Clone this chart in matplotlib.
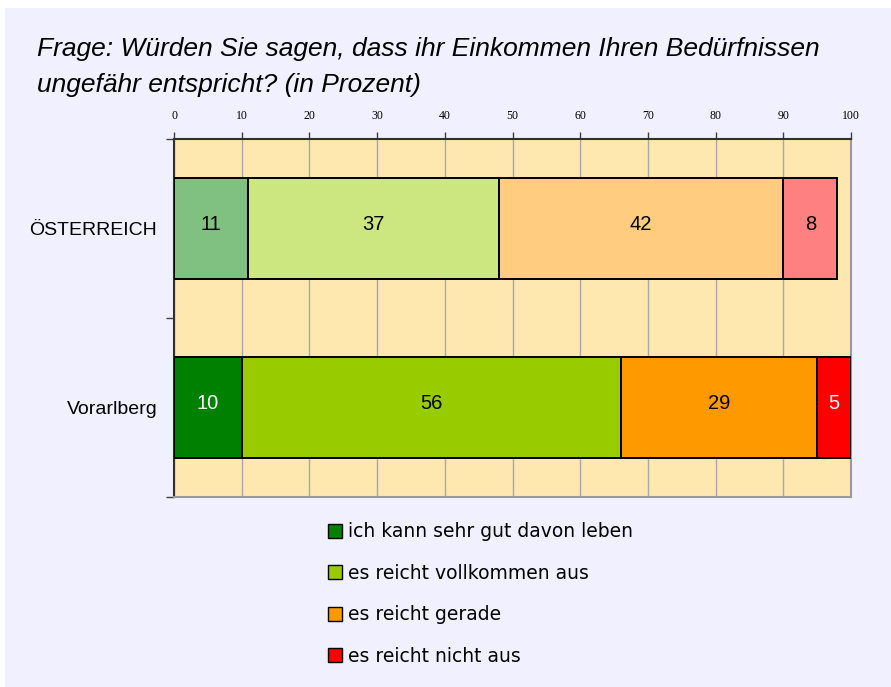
import matplotlib
matplotlib.use("Agg")
import matplotlib.pyplot as plt
from matplotlib.patches import Rectangle, Patch

categories = ["Vorarlberg", "ÖSTERREICH"]
series_labels = ["ich kann sehr gut davon leben", "es reicht vollkommen aus",
                 "es reicht gerade", "es reicht nicht aus"]
oesterreich = [11, 37, 42, 8]
vorarlberg = [10, 56, 29, 5]
xticks = list(range(0, 101, 10))
title_lines = ["Frage: Würden Sie sagen, dass ihr Einkommen Ihren Bedürfnissen",
               "ungefähr entspricht? (in Prozent)"]

colors_vbg = ["#008000", "#99CC00", "#FF9900", "#FF0000"]
colors_oe = ["#80C080", "#CCE680", "#FFCC80", "#FF8080"]
text_vbg = ["white", "black", "black", "white"]
text_oe = ["black", "black", "black", "black"]

W, H = 891, 687
fig = plt.figure(figsize=(W / 100, H / 100), dpi=100)
fig.patch.set_facecolor("white")
fig.add_artist(Rectangle((5 / W, 0), 1, 1 - 8 / H, transform=fig.transFigure,
                         facecolor="#F0F0FF", edgecolor="none", zorder=-10))

ax = fig.add_axes([174 / W, 190 / H, 677 / W, 358 / H])
ax.set_facecolor("#FFE8B0")
ax.set_xlim(0, 100)
ax.set_ylim(-0.5, 1.5)

rows = [(0, vorarlberg, colors_vbg, text_vbg), (1, oesterreich, colors_oe, text_oe)]
for y, vals, cols, tcols in rows:
    left = 0
    for v, c, tc in zip(vals, cols, tcols):
        ax.barh(y, v, left=left, height=0.56, color=c, edgecolor="black",
                linewidth=1.4, zorder=3)
        ax.text(left + v / 2, y + 0.02, str(v), ha="center", va="center",
                fontsize=14.5, color=tc, family="Liberation Sans", zorder=4)
        left += v

ax.xaxis.tick_top()
ax.set_xticks(xticks)
ax.set_xticklabels([str(t) for t in xticks], family="Liberation Serif", fontsize=8.5)
ax.tick_params(axis="x", direction="out", length=5, pad=7, color="#404040", width=1)
ax.grid(axis="x", color="#A8A8A8", linewidth=1, zorder=1)

ax.set_yticks([-0.5, 0.5, 1.5])
ax.set_yticklabels([])
ax.set_yticks([0, 1], minor=True)
ax.set_yticklabels(categories, minor=True, family="Liberation Sans", fontsize=14)
ax.tick_params(axis="y", which="major", direction="out", length=6, width=1, color="#404040")
ax.tick_params(axis="y", which="minor", length=0, pad=12)

for s in ["top", "left"]:
    ax.spines[s].set_color("#303030")
    ax.spines[s].set_linewidth(1.5)
for s in ["right", "bottom"]:
    ax.spines[s].set_color("#999999")
    ax.spines[s].set_linewidth(1.5)

for line, base in zip(title_lines, [56, 92]):
    fig.text(37 / W, 1 - base / H, line, ha="left", va="baseline", fontsize=19,
             style="italic", family="Liberation Sans")

handles = [Patch(facecolor=c, edgecolor="black", linewidth=1) for c in colors_vbg]
fig.legend(handles, series_labels, loc="upper left",
           bbox_to_anchor=(319 / W, 1 - 513 / H), frameon=False,
           prop={"family": "DejaVu Sans", "size": 13.5},
           handlelength=0.75, handleheight=0.75, handletextpad=0.3,
           labelspacing=1.2, borderpad=0)

fig.savefig("out.png", dpi=100, facecolor=fig.get_facecolor())
